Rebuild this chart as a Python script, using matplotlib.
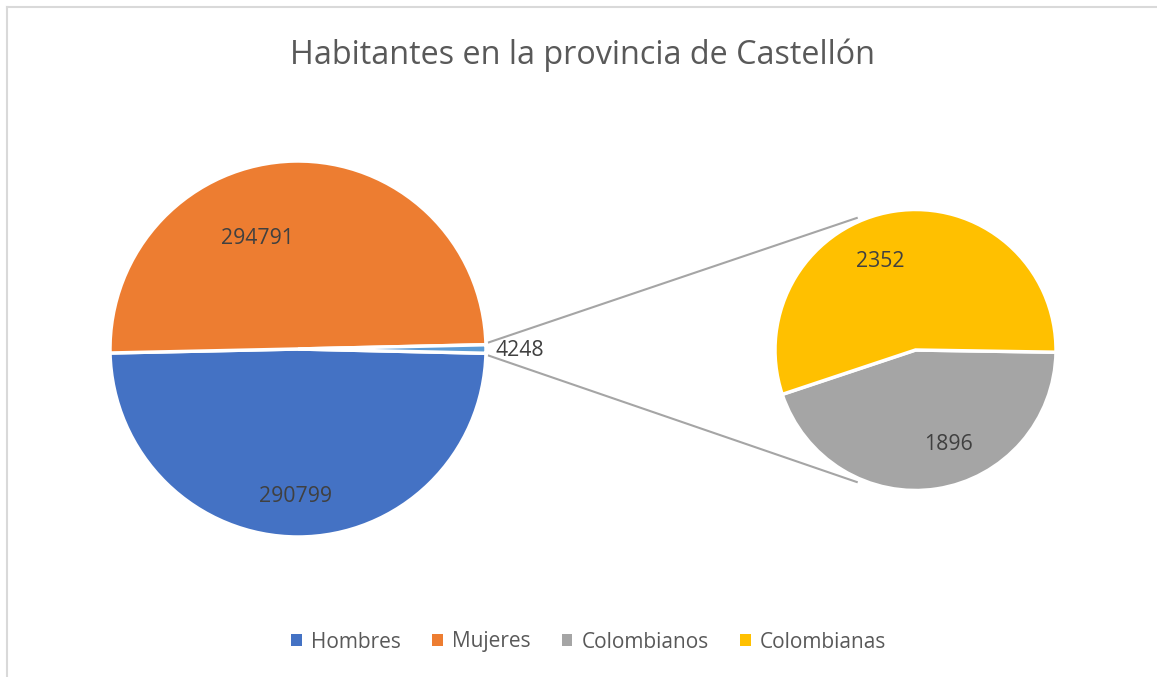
import matplotlib.pyplot as plt
import numpy as np

plt.rcParams['font.family'] = ['Open Sans', 'DejaVu Sans']

title = "Habitantes en la provincia de Castellón"
main_labels = ["Hombres", "Mujeres", "Otros"]
main_values = [290799, 294791, 4248]
main_colors = ["#4472C4", "#ED7D31", "#5B9BD5"]

sub_labels = ["Colombianos", "Colombianas"]
sub_values = [1896, 2352]
sub_colors = ["#A5A5A5", "#FFC000"]

W, H = 1157, 677
fig = plt.figure(figsize=(W / 100, H / 100), dpi=100)
ax = fig.add_axes([0, 0, 1, 1])

# layout in pixel units (y up)
main_c = (298, H - 349)
main_r = 188
sub_c = (915.5, H - 350)
sub_r = 140.5

# the "other" slice is centered on the east side
other_angle = 360 * main_values[2] / sum(main_values)
main_wedges, _ = ax.pie(main_values, colors=main_colors, center=main_c, radius=main_r,
                        startangle=-other_angle / 2, counterclock=False,
                        wedgeprops=dict(edgecolor="white", linewidth=2.5))

sub_wedges, _ = ax.pie(sub_values, colors=sub_colors, center=sub_c, radius=sub_r,
                       startangle=-0.9, counterclock=False,
                       wedgeprops=dict(edgecolor="white", linewidth=2.5))

# connector lines
for sgn in (1, -1):
    a0 = np.radians(sgn * 2.0)
    a1 = np.radians(sgn * 114)
    x0 = main_c[0] + (main_r + 3) * np.cos(a0)
    y0 = main_c[1] + (main_r + 3) * np.sin(a0)
    x1 = sub_c[0] + (sub_r + 4) * np.cos(a1)
    y1 = sub_c[1] + (sub_r + 4) * np.sin(a1)
    ax.plot([x0, x1], [y0, y1], color="#A5A5A5", lw=1.5, zorder=0)

# data labels (angle, distance) tweaks like Excel's best fit
lab_color = "#404040"
lab_size = 15.3
main_pos = [(269, 148), (110, 118)]
for v, (ang, d) in zip(main_values[:2], main_pos):
    a = np.radians(ang)
    ax.text(main_c[0] + d * np.cos(a), main_c[1] + d * np.sin(a), str(v),
            ha="center", va="center", fontsize=lab_size, color=lab_color)
ax.text(main_c[0] + main_r + 10, main_c[1] - 2, str(main_values[2]),
        ha="left", va="center", fontsize=lab_size, color=lab_color)

sub_pos = [(-71, 100), (112, 95)]
for v, (ang, d) in zip(sub_values, sub_pos):
    a = np.radians(ang)
    ax.text(sub_c[0] + d * np.cos(a), sub_c[1] + d * np.sin(a), str(v),
            ha="center", va="center", fontsize=lab_size, color=lab_color)

ax.set_xlim(0, W)
ax.set_ylim(0, H)
ax.set_aspect("equal")
ax.axis("off")

# chart border (top and left visible)
ax.plot([7, W], [H - 7, H - 7], color="#D9D9D9", lw=1.5, clip_on=False)
ax.plot([7, 7], [0, H - 7], color="#D9D9D9", lw=1.5, clip_on=False)

ax.text(583, H - 55, title, ha="center", va="center", fontsize=23.3, color="#595959")

handles = [main_wedges[0], main_wedges[1], sub_wedges[0], sub_wedges[1]]
names = ["Hombres", "Mujeres"] + sub_labels
leg = ax.legend(handles, names, loc="center", bbox_to_anchor=(589 / W, 1 - 642 / H),
                ncol=4, frameon=False, fontsize=15, handlelength=0.5, handleheight=0.5,
                handletextpad=0.45, columnspacing=1.5, labelcolor="#595959")
for h in leg.legend_handles:
    h.set_edgecolor("none")

fig.savefig("out.png", dpi=100)
